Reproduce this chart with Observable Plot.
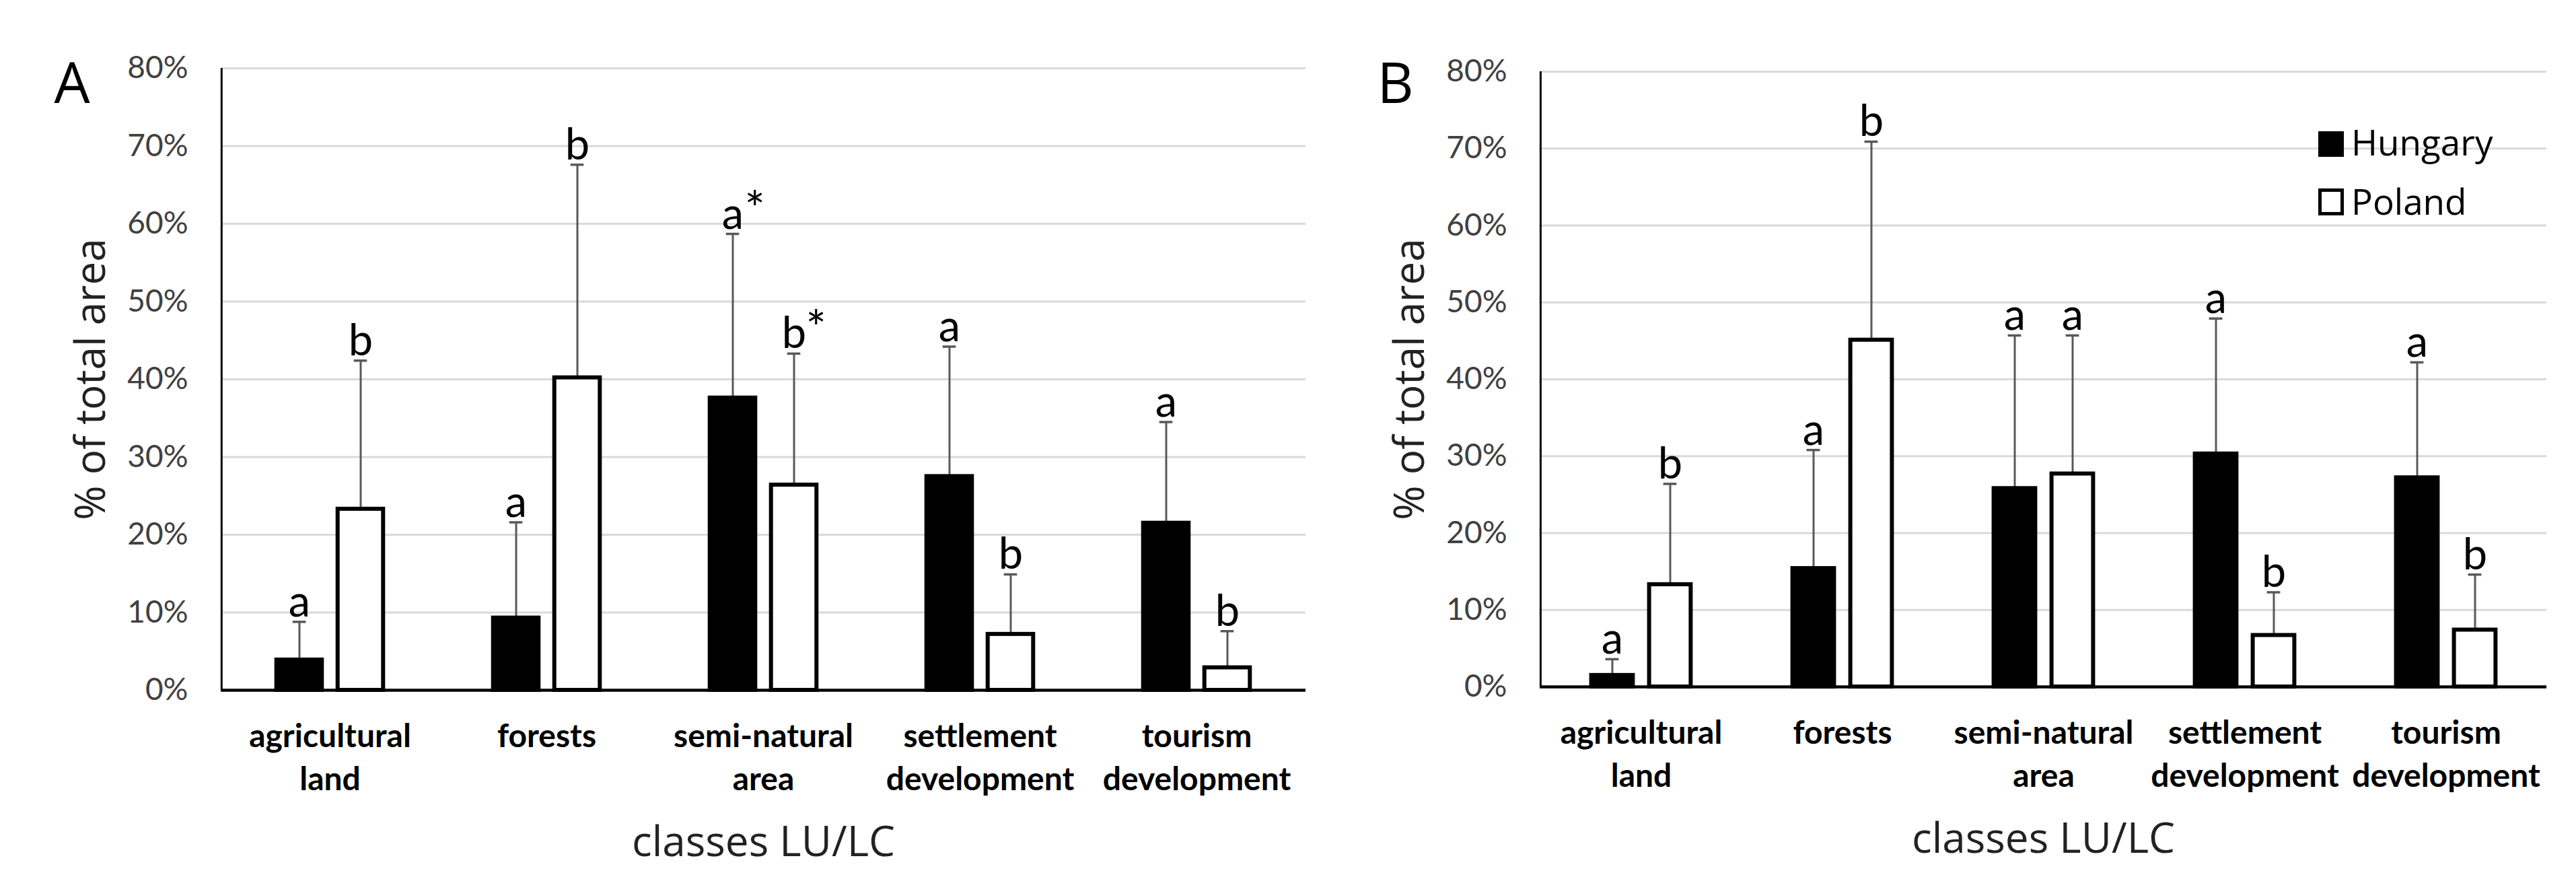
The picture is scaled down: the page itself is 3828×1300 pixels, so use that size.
<!DOCTYPE html>
<html>
<head>
<meta charset="utf-8">
<script src="https://cdn.jsdelivr.net/npm/d3@7"></script>
<script src="https://cdn.jsdelivr.net/npm/@observablehq/plot@0.6"></script>
<style>
  html, body { margin: 0; padding: 0; background: #fff; }
  #fig { position: relative; width: 3828px; height: 1300px; overflow: hidden; background: #fff; }
  .panel { position: absolute; top: 0; }
  .sw { position: absolute; box-sizing: border-box; }
  .lt { position: absolute; font-family: "Open Sans"; font-size: 53px; line-height: 1; color: #000; white-space: nowrap; }
</style>
</head>
<body>
<div id="fig"></div>
<script>
// ---------- data ----------
const categories = ["agricultural\nland", "forests", "semi-natural\narea", "settlement\ndevelopment", "tourism\ndevelopment"];
const countries = ["Hungary", "Poland"];
const yTicks = [0, 10, 20, 30, 40, 50, 60, 70, 80];

// Panel A
const hungaryA   = [3.9, 9.3, 37.6, 27.5, 21.5];
const hungarySdA = [4.9, 12.3, 21.1, 16.7, 13.0];
const polandA    = [23.3, 40.2, 26.4, 7.2, 2.9];
const polandSdA  = [19.1, 27.4, 16.9, 7.7, 4.7];
const sigHungaryA = ["a", "a", "a*", "a", "a"];
const sigPolandA  = ["b", "b", "b*", "b", "b"];

// Panel B
const hungaryB   = [1.5, 15.4, 25.8, 30.3, 27.2];
const hungarySdB = [2.1, 15.4, 19.9, 17.6, 15.0];
const polandB    = [13.3, 45.1, 27.7, 6.7, 7.4];
const polandSdB  = [13.1, 25.8, 18.0, 5.6, 7.2];
const sigHungaryB = ["a", "a", "a", "a", "a"];
const sigPolandB  = ["b", "b", "a", "b", "b"];

function makeRows(hv, hs, hsig, pv, ps, psig) {
  return categories.flatMap((c, i) => [
    {category: c, country: countries[0], value: hv[i], sd: hs[i], sig: hsig[i]},
    {category: c, country: countries[1], value: pv[i], sd: ps[i], sig: psig[i]}
  ]);
}

function panel(cfg) {
  const {rows, letter, width, height, marginLeft, marginRight, marginTop, marginBottom,
         barW, gap, letterDx, letterDy} = cfg;
  const band = (width - marginLeft - marginRight) / categories.length;
  const capW = 20;
  const labelSize = 65;
  const marks = [
    Plot.gridY(yTicks.filter(t => t > 0), {stroke: "#d9d9d9", strokeOpacity: 1, strokeWidth: 3}),
    Plot.axisY(yTicks, {tickSize: 0, tickPadding: 49, tickFormat: d => d + "%", fontSize: 46,
      fontFamily: "Lato", color: "#404040", label: null}),
    Plot.axisX({tickSize: 0, tickPadding: 39, fontSize: 48, fontWeight: "bold", fontFamily: "Lato",
      lineHeight: 1.33, color: "#000", label: null})
  ];
  countries.forEach((c, k) => {
    const sub = rows.filter(d => d.country === c);
    const off = (k === 0 ? -1 : 1) * (gap / 2 + barW / 2);
    const insetLeft = band / 2 + off - barW / 2;
    const insetRight = band / 2 - off - barW / 2;
    marks.push(
      Plot.ruleX(sub, {x: "category", y1: "value", y2: d => d.value + d.sd, stroke: "#595959", strokeWidth: 3, dx: off}),
      Plot.tickY(sub, {x: "category", y: d => d.value + d.sd, stroke: "#595959", strokeWidth: 3.5,
        insetLeft: (band - capW) / 2, insetRight: (band - capW) / 2, dx: off}),
      Plot.barY(sub, {x: "category", y: "value", fill: k === 0 ? "#000" : "#fff", stroke: "#000",
        strokeWidth: 6, insetLeft, insetRight}),
      Plot.text(sub, {x: "category", y: d => d.value + d.sd, text: d => d.sig[0], dx: off, dy: -8,
        lineAnchor: "bottom", fontSize: labelSize, fontFamily: "Lato", fill: "#000"}),
      Plot.text(sub.filter(d => d.sig.length > 1), {x: "category", y: d => d.value + d.sd,
        text: d => d.sig.slice(1), textAnchor: "start", dx: off + 0.27 * labelSize, dy: -12,
        lineAnchor: "bottom", fontSize: labelSize * 1.1, fontFamily: "Lato", fill: "#000"})
    );
  });
  marks.push(
    Plot.ruleY([0], {stroke: "#000", strokeWidth: 4.5}),
    Plot.ruleX(categories.slice(0, 1), {y1: 0, y2: 80, dx: -band / 2, stroke: "#000", strokeWidth: 3}),
    Plot.text(["classes LU/LC"], {frameAnchor: "bottom", textAnchor: "middle", lineAnchor: "bottom", dy: 246, fontSize: 62,
      fontFamily: "Open Sans", fill: "#222"}),
    Plot.text(["% of total area"], {frameAnchor: "left", textAnchor: "middle", lineAnchor: "middle", rotate: -90, dx: -192, fontSize: 62,
      fontFamily: "Open Sans", fill: "#222"}),
    Plot.text([letter], {frameAnchor: "top-left", textAnchor: "start", lineAnchor: "top", dx: letterDx, dy: letterDy,
      fontSize: 84, fontFamily: "Open Sans", fill: "#000"})
  );
  return Plot.plot({
    width, height, marginLeft, marginRight, marginTop, marginBottom,
    style: {fontFamily: "Lato", background: "#fff", overflow: "visible"},
    x: {type: "band", domain: categories, padding: 0},
    y: {domain: [0, 80]},
    marks
  });
}

const fig = document.getElementById("fig");

const plotA = panel({
  rows: makeRows(hungaryA, hungarySdA, sigHungaryA, polandA, polandSdA, sigPolandA),
  letter: "A", width: 1990, height: 1300,
  marginLeft: 328, marginRight: 50, marginTop: 101, marginBottom: 275,
  barW: 68, gap: 23, letterDx: -248, letterDy: -8
});
plotA.classList.add("panel");
plotA.style.left = "0px";
fig.appendChild(plotA);

const plotB = panel({
  rows: makeRows(hungaryB, hungarySdB, sigHungaryB, polandB, polandSdB, sigPolandB),
  letter: "B", width: 1838, height: 1300,
  marginLeft: 298, marginRight: 44, marginTop: 106, marginBottom: 280,
  barW: 62, gap: 24, letterDx: -242, letterDy: -13
});
plotB.classList.add("panel");
plotB.style.left = "1990px";
fig.appendChild(plotB);

// legend (inside panel B, top right)
const legendItems = [
  {label: countries[0], fill: "#000", top: 195, textTop: 184, h: 38},
  {label: countries[1], fill: "#fff", top: 280, textTop: 272, h: 40}
];
legendItems.forEach(it => {
  const sw = document.createElement("div");
  sw.className = "sw";
  sw.style.left = "3445px";
  sw.style.top = it.top + "px";
  sw.style.width = "38px";
  sw.style.height = it.h + "px";
  sw.style.background = it.fill;
  sw.style.border = "5px solid #000";
  fig.appendChild(sw);
  const t = document.createElement("div");
  t.className = "lt";
  t.style.left = "3494px";
  t.style.top = it.textTop + "px";
  t.textContent = it.label;
  fig.appendChild(t);
});
</script>
</body>
</html>
